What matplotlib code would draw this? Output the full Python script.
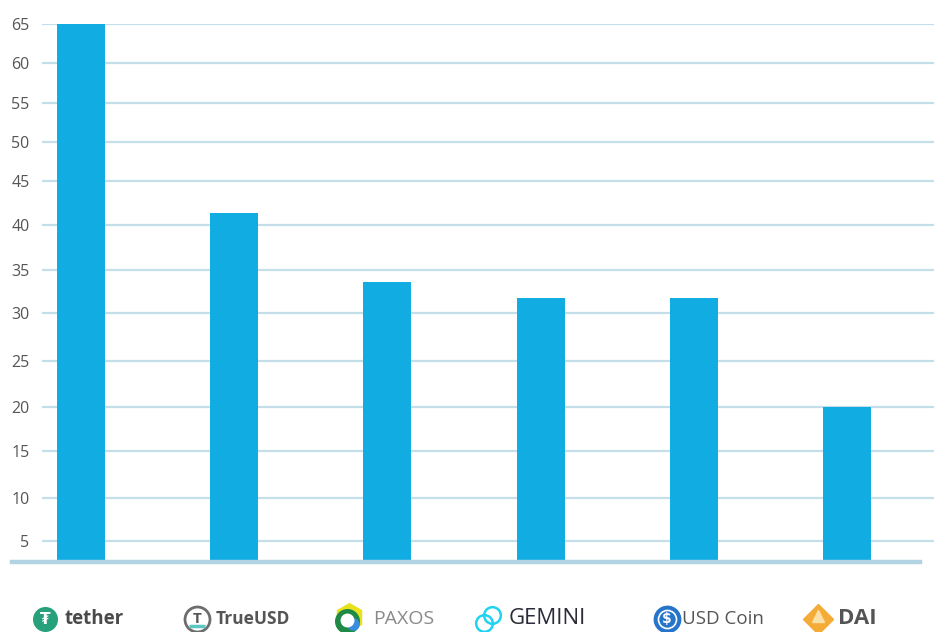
import numpy as np
import matplotlib
matplotlib.use("Agg")
import matplotlib.pyplot as plt
from matplotlib.transforms import blended_transform_factory, offset_copy

# data
coins = ["tether", "TrueUSD", "PAXOS", "GEMINI", "USD Coin", "DAI"]
values = [65, 41.4, 33.6, 31.8, 31.8, 20]
yticks = [5, 10, 15, 20, 25, 30, 35, 40, 45, 50, 55, 60, 65]

# the source axis is not evenly spaced: value -> height above baseline (px)
scale_vals = [0, 5, 10, 15, 20, 25, 30, 35, 40, 45, 50, 55, 60, 65]
scale_h = [0, 20.5, 63.8, 110.2, 154.8, 200.8, 248.2, 291.5, 336.2,
           380.8, 419.2, 458.8, 498.5, 538.0]


def fwd(v):
    return np.interp(v, scale_vals, scale_h)


def inv(h):
    return np.interp(h, scale_h, scale_vals)


W, H = 934, 632
fig = plt.figure(figsize=(W / 100, H / 100), dpi=100)
ax = fig.add_axes([42 / W, (H - 561.5) / H, (W - 42) / W, 538.0 / H])

ax.set_yscale("function", functions=(fwd, inv))
ax.set_ylim(0, 65)
ax.set_xlim(-0.2546, 5.568)

bar_c = "#10ace2"
grid_c = "#c4dfea"
x = np.arange(len(coins))
ax.bar(x, values, width=0.313, color=bar_c, zorder=3)

for v in yticks:
    ax.axhline(v, color=grid_c, lw=1.6, zorder=1)
ax.axhline(0, xmin=-30 / 892, xmax=878 / 892, color="#b2d4e2", lw=3.2,
           zorder=4, clip_on=False)

ax.set_yticks(yticks)
ax.set_yticklabels([str(t) for t in yticks], fontsize=11.5, color="#555555",
                   family="Open Sans")
ax.tick_params(axis="y", length=0, pad=9)
ax.set_xticks([])
for s in ax.spines.values():
    s.set_visible(False)

# logo row under each bar
tr = blended_transform_factory(ax.transData, ax.transAxes)


def at(i, dx, dy=-57.5):
    return offset_copy(tr, fig=fig, x=dx, y=dy, units="dots")


def icon(i, dx, dy=-57.5, **kw):
    ax.plot([i], [0], transform=at(i, dx, dy), clip_on=False, **kw)


def glyph(i, dx, s, dy=-57.5, **kw):
    ax.text(i, 0, s, transform=at(i, dx, dy), ha="center", va="center",
            clip_on=False, **kw)


# tether
icon(0, -36, marker="o", ms=17, color="#26a17b", mec="#26a17b")
glyph(0, -36, "\u20ae", color="white", fontsize=11, fontweight="bold",
      family="DejaVu Sans")
ax.text(0, 0, "tether", transform=at(0, -16), ha="left", va="center",
        fontsize=13.5, fontweight="bold", color="#4a4a4a", family="Open Sans")

# TrueUSD
icon(1, -37, marker="o", ms=18, mfc="white", mec="#6d6d6d", mew=2)
icon(1, -37, dy=-64, marker="_", ms=12, mec="#5cc6c0", mew=2.5)
glyph(1, -37, "T", color="#555555", fontsize=11, fontweight="bold",
      family="Open Sans")
ax.text(1, 0, "TrueUSD", transform=at(1, -19), ha="left", va="center",
        fontsize=12.5, fontweight="bold", color="#555555", family="Open Sans")

# PAXOS
icon(2, -38, dy=-55, marker="h", ms=20, color="#e8e21c", mec="#e8e21c")
icon(2, -40, dy=-59, marker="o", ms=17, color="#1f8a45", mec="#1f8a45")
icon(2, -34, dy=-62, marker="o", ms=8, color="#3a8dde", mec="#3a8dde")
icon(2, -40, dy=-58, marker="o", ms=9, color="white", mec="white")
ax.text(2, 0, "PAXOS", transform=at(2, -14), ha="left", va="center",
        fontsize=14, color="#8a8a8a", family="Open Sans")

# GEMINI
icon(3, -57, dy=-61, marker="o", ms=12, mfc="none", mec="#1fd4f0", mew=1.8)
icon(3, -49, dy=-53, marker="o", ms=12, mfc="none", mec="#1fd4f0", mew=1.8)
ax.text(3, 0, "GEMINI", transform=at(3, -32), ha="left", va="center",
        fontsize=16, color="#2b2b3a", family="Open Sans")

# USD Coin
icon(4, -27, marker="o", ms=19, color="#2775ca", mec="#2775ca")
icon(4, -27, marker="o", ms=13, mfc="none", mec="white", mew=1.2)
glyph(4, -27, "$", color="white", fontsize=10, fontweight="bold",
      family="DejaVu Sans")
ax.text(4, 0, "USD Coin", transform=at(4, -12), ha="left", va="center",
        fontsize=13.5, color="#555555", family="Open Sans")

# DAI
icon(5, -29, marker="D", ms=15, color="#f5ac37", mec="#f5ac37")
icon(5, -29, dy=-54, marker="^", ms=8, color="#fbe0a8", mec="#fbe0a8")
ax.text(5, 0, "DAI", transform=at(5, -9), ha="left", va="center",
        fontsize=16, fontweight="bold", color="#555555", family="Open Sans")

fig.savefig("out.png", dpi=100)
